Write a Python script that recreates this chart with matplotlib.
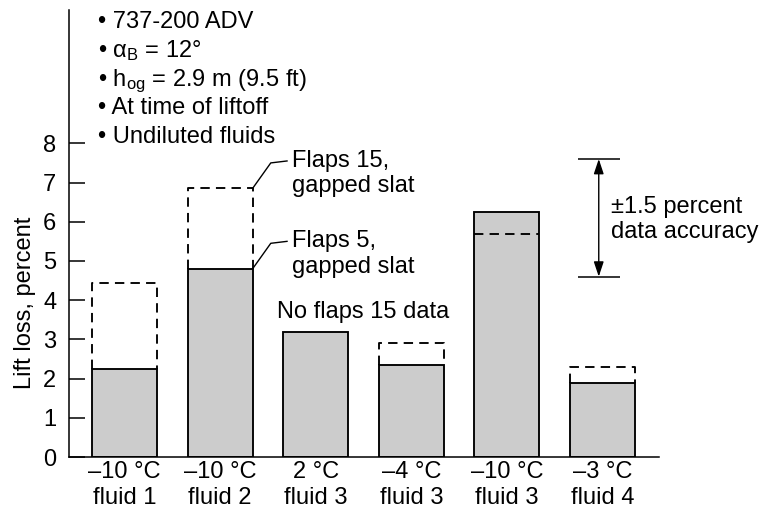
import matplotlib
matplotlib.use('Agg')
import matplotlib.pyplot as plt
import numpy as np

# Lift loss per fluid condition
categories = ['\u201310 \u00b0C\nfluid 1', '\u201310 \u00b0C\nfluid 2', '2 \u00b0C\nfluid 3',
              '\u20134 \u00b0C\nfluid 3', '\u201310 \u00b0C\nfluid 3', '\u20133 \u00b0C\nfluid 4']
flaps5 = [2.25, 4.8, 3.2, 2.35, 6.25, 1.9]
flaps15 = [4.45, 6.85, None, 2.9, 5.7, 2.3]
notes = ['737-200 ADV', '$\\mathregular{\\alpha_B}$ = 12\u00b0',
         '$\\mathregular{h_{og}}$ = 2.9 m (9.5 ft)', 'At time of liftoff', 'Undiluted fluids']
yticks = [0, 1, 2, 3, 4, 5, 6, 7, 8]
accuracy_center = 6.1
accuracy_half = 1.5

plt.rcParams['font.family'] = ['Liberation Sans', 'DejaVu Sans']
plt.rcParams['mathtext.fontset'] = 'custom'
plt.rcParams['mathtext.rm'] = 'Liberation Sans'
plt.rcParams['mathtext.it'] = 'Liberation Sans:italic'
plt.rcParams['font.size'] = 17

fig = plt.figure(figsize=(7.62, 5.16), dpi=100)
ax = fig.add_axes([69/762, 1 - 457/516, 590/762, 447/516])

x = np.arange(len(categories))
width = 0.68
lw = 1.1
bar_lw = 1.35

ax.bar(x, flaps5, width=width, color='#cccccc', edgecolor='black', linewidth=bar_lw, zorder=2)

# Flaps 15 outlines (dashed)
for xi, v5, v15 in zip(x, flaps5, flaps15):
    if v15 is None:
        continue
    l, r = xi - width/2, xi + width/2
    if v15 > v5:
        ax.plot([l, l, r, r], [v5, v15, v15, v5], color='black', lw=bar_lw,
                dashes=(5, 3.3), zorder=3)
    else:
        ax.plot([l, r], [v15, v15], color='black', lw=bar_lw, dashes=(5, 3.3), zorder=3)

# Leaders for the flap labels on the second bar
xr = x[1] + width/2
for val, txt in [(flaps15[1], 'Flaps 15,\ngapped slat'), (flaps5[1], 'Flaps 5,\ngapped slat')]:
    ax.plot([xr, xr + 0.19, xr + 0.36], [val, val + 0.65, val + 0.7], color='black', lw=1.0)
    ax.text(xr + 0.41, val + 0.38, txt, ha='left', va='center')

ax.text(2.5, 3.7, 'No flaps 15 data', ha='center', va='center')

# Notes
for i, note in enumerate(notes):
    ax.text(-0.277, 10.93 - i*0.73, '\u2022 ' + note, ha='left', va='baseline')

# Data accuracy bar
xa = x[-1] - 0.04
lo, hi = accuracy_center - accuracy_half, accuracy_center + accuracy_half
ax.hlines([lo, hi], xa - 0.22, xa + 0.22, color='black', lw=lw)
ax.annotate('', xy=(xa, lo), xytext=(xa, hi),
            arrowprops=dict(arrowstyle='<|-|>,head_length=0.9,head_width=0.3',
                            mutation_scale=10, color='black', lw=1.0,
                            shrinkA=0, shrinkB=0))
ax.text(xa + 0.13, accuracy_center - 0.05, '\u00b11.5 percent\ndata accuracy',
        ha='left', va='center')

ax.set_xlim(-0.58, 5.59)
ax.set_ylim(0, 11.4)
ax.set_yticks(yticks)
ax.set_xticks(x)
ax.set_xticklabels(categories)
ax.tick_params(axis='y', direction='in', length=11.5, width=lw, pad=9)
ax.tick_params(axis='x', length=0, pad=3)
ax.set_ylabel('Lift loss, percent')
ax.yaxis.set_label_coords(-0.056, 0.345)

for side in ['top', 'right']:
    ax.spines[side].set_visible(False)
for side in ['left', 'bottom']:
    ax.spines[side].set_linewidth(lw)

fig.savefig('out.png', dpi=100)
